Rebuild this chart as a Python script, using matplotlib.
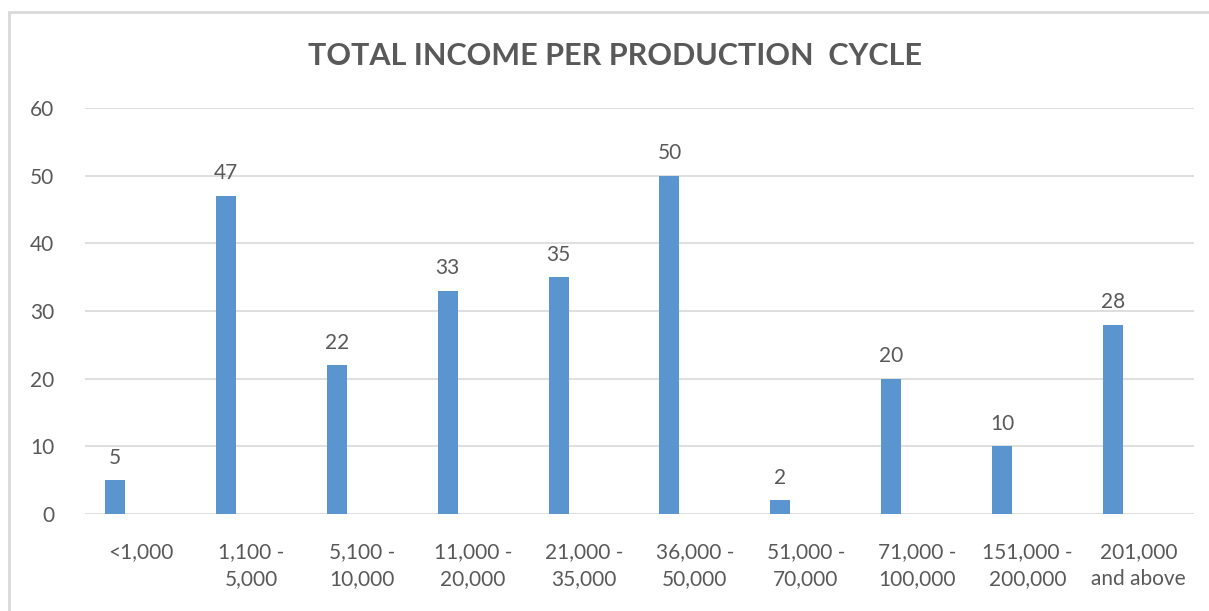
import numpy as np
import matplotlib.pyplot as plt
from matplotlib.patches import Rectangle

# Income brackets and number of respondents
categories = ["<1,000", "1,100 -\n5,000", "5,100 -\n10,000", "11,000 -\n20,000",
              "21,000 -\n35,000", "36,000 -\n50,000", "51,000 -\n70,000",
              "71,000 -\n100,000", "151,000 -\n200,000", "201,000\nand above"]
counts = [5, 47, 22, 33, 35, 50, 2, 20, 10, 28]
y_ticks = [0, 10, 20, 30, 40, 50, 60]

bar_color = "#5b95cf"
text_color = "#595959"
grid_color = "#d9d9d9"

plt.rcParams['font.family'] = ['Lato', 'DejaVu Sans']

W, H = 1209, 611
fig = plt.figure(figsize=(W / 100, H / 100), dpi=100)
ax = fig.add_axes([85 / W, 1 - 514 / H, (1194 - 85) / W, (514 - 108) / H])

x = np.arange(len(categories))
# bars sit left of the category centre (empty second series slot)
bar_x = x - 0.23
ax.bar(bar_x, counts, width=0.18, color=bar_color, zorder=3)

for bx, v in zip(bar_x, counts):
    ax.annotate(str(v), (bx, v), xytext=(0, 9), textcoords="offset points",
                ha="center", va="bottom", fontsize=15, color=text_color)

ax.set_xlim(-0.5, len(categories) - 0.5)
ax.set_ylim(0, 60)
ax.set_yticks(y_ticks)
ax.set_xticks(x)
ax.set_xticklabels(categories, fontsize=15, color=text_color, linespacing=1.45)
ax.tick_params(axis="y", labelsize=15, labelcolor=text_color, length=0, pad=22)
ax.tick_params(axis="x", length=0, pad=20)
ax.grid(axis="y", color=grid_color, linewidth=1.2, zorder=0)
for s in ax.spines.values():
    s.set_visible(False)

fig.text(615 / W, 1 - 56 / H, "TOTAL INCOME PER PRODUCTION  CYCLE",
         ha="center", va="center", fontsize=22, fontweight="bold", color=text_color)

# chart frame
fig.patches.append(Rectangle((9 / W, -0.1), 1.2, 1 - 12 / H + 0.1,
                             transform=fig.transFigure, fill=False,
                             edgecolor=grid_color, linewidth=2))

fig.savefig("out.png", dpi=100)
